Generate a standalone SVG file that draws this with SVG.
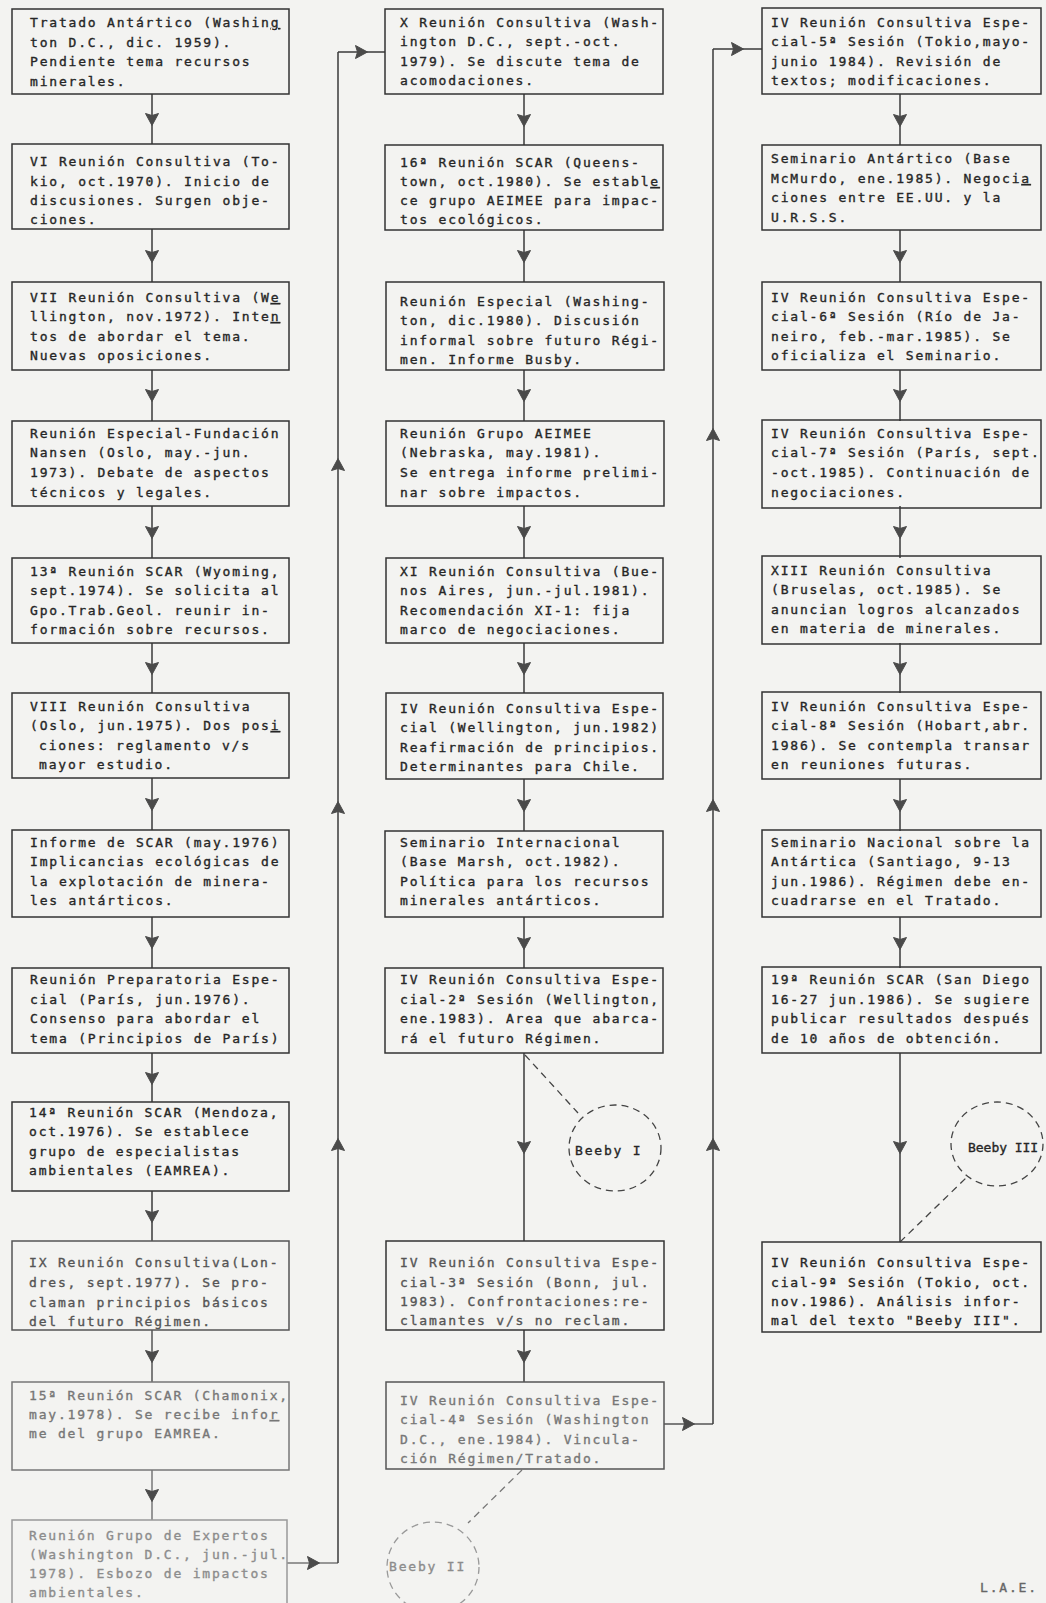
<svg xmlns="http://www.w3.org/2000/svg" width="1046" height="1603" viewBox="0 0 1046 1603">
<style>
.bx{fill:none;stroke:#333;stroke-width:1.5}
.t{font-family:"DejaVu Sans Mono","Liberation Mono",monospace;font-size:13px;letter-spacing:1.8px;fill:#262626;stroke:#262626;stroke-width:0.35}
.c{fill:none;stroke:#3a3a3a;stroke-width:1.5;marker-mid:url(#ah)}
.d{fill:none;stroke:#444;stroke-width:1.3;stroke-dasharray:7 5}
.f1{fill:#555;stroke:#555}.f2{fill:#777;stroke:#777}.f3{fill:#8c8c8c;stroke:#8c8c8c}
.s1{stroke:#555}.s2{stroke:#777}.s3{stroke:#999}
</style>
<defs>
<marker id="ah" markerUnits="userSpaceOnUse" viewBox="-8 -8 16 16" markerWidth="16" markerHeight="16" refX="0" refY="0" orient="auto">
<path d="M6.5,0 L-5.5,-6.5 L-3.5,0 L-5.5,6.5 Z" fill="#4a4a4a" stroke="#4a4a4a" stroke-width="1" stroke-linejoin="round"/>
</marker>
</defs>
<rect x="0" y="0" width="1046" height="1603" fill="#f3f3f1"/>

<g id="connectors">
<path class="c" d="M152,94 L152,119 L152,144"/>
<path class="c" d="M152,229 L152,256 L152,282"/>
<path class="c" d="M152,370 L152,395 L152,421"/>
<path class="c" d="M152,506 L152,532 L152,558"/>
<path class="c" d="M152,643 L152,668 L152,693"/>
<path class="c" d="M152,778 L152,804 L152,830"/>
<path class="c" d="M152,917 L152,942 L152,968"/>
<path class="c" d="M152,1053 L152,1078 L152,1102"/>
<path class="c" d="M152,1191 L152,1216 L152,1241"/>
<path class="c s1" d="M152,1330 L152,1356 L152,1382"/>
<path class="c s2" d="M152,1470 L152,1495 L152,1520"/>
<path class="c s2" d="M287,1563 L313,1563 L338,1563"/>
<path class="c" d="M338,1563 L338,1145 L338,808 L338,465 L338,52"/>
<path class="c" d="M338,52 L361,52 L385,52"/>

<path class="c" d="M524,94 L524,120 L524,145"/>
<path class="c" d="M524,230 L524,256 L524,282"/>
<path class="c" d="M524,370 L524,395 L524,421"/>
<path class="c" d="M524,506 L524,532 L524,558"/>
<path class="c" d="M524,643 L524,668 L524,693"/>
<path class="c" d="M524,779 L524,805 L524,831"/>
<path class="c" d="M524,917 L524,943 L524,968"/>
<path class="c" d="M524,1053 L524,1147 L524,1241"/>
<path class="c" d="M524,1330 L524,1356 L524,1382"/>
<path class="c s1" d="M664,1424 L688,1424 L713,1424"/>
<path class="c" d="M713,1424 L713,1145 L713,806 L713,435 L713,49"/>
<path class="c" d="M713,49 L737,49 L762,49"/>

<path class="c" d="M900,94 L900,120 L900,145"/>
<path class="c" d="M900,230 L900,256 L900,282"/>
<path class="c" d="M900,370 L900,395 L900,421"/>
<path class="c" d="M900,506 L900,532 L900,558"/>
<path class="c" d="M900,643 L900,668 L900,693"/>
<path class="c" d="M900,779 L900,805 L900,831"/>
<path class="c" d="M900,917 L900,943 L900,968"/>
<path class="c" d="M900,1053 L900,1147 L900,1242"/>

<path class="d" d="M525,1055 L578,1113"/>
<path class="d s2" d="M522,1470 L468,1523"/>
<path class="d" d="M900,1242 L966,1178"/>
</g>

<g id="L1"><rect class="bx" x="12" y="9" width="277" height="85"/>
<text class="t"><tspan x="30" y="27">Tratado Antártico (Washin<tspan text-decoration="underline">g</tspan></tspan><tspan x="30" y="47">ton D.C., dic. 1959).</tspan><tspan x="30" y="66">Pendiente tema recursos</tspan><tspan x="30" y="86">minerales.</tspan></text></g>
<g id="L2"><rect class="bx" x="12" y="144" width="277" height="85"/>
<text class="t"><tspan x="30" y="166">VI Reunión Consultiva (To-</tspan><tspan x="30" y="186">kio, oct.1970). Inicio de</tspan><tspan x="30" y="205">discusiones. Surgen obje-</tspan><tspan x="30" y="224">ciones.</tspan></text></g>
<g id="L3"><rect class="bx" x="12" y="282" width="277" height="88"/>
<text class="t"><tspan x="30" y="302">VII Reunión Consultiva (W<tspan text-decoration="underline">e</tspan></tspan><tspan x="30" y="321">llington, nov.1972). Inte<tspan text-decoration="underline">n</tspan></tspan><tspan x="30" y="341">tos de abordar el tema.</tspan><tspan x="30" y="360">Nuevas oposiciones.</tspan></text></g>
<g id="L4"><rect class="bx" x="12" y="421" width="277" height="85"/>
<text class="t"><tspan x="30" y="438">Reunión Especial-Fundación</tspan><tspan x="30" y="457">Nansen (Oslo, may.-jun.</tspan><tspan x="30" y="477">1973). Debate de aspectos</tspan><tspan x="30" y="497">técnicos y legales.</tspan></text></g>
<g id="L5"><rect class="bx" x="12" y="558" width="277" height="85"/>
<text class="t"><tspan x="30" y="576">13ª Reunión SCAR (Wyoming,</tspan><tspan x="30" y="595">sept.1974). Se solicita al</tspan><tspan x="30" y="615">Gpo.Trab.Geol. reunir in-</tspan><tspan x="30" y="634">formación sobre recursos.</tspan></text></g>
<g id="L6"><rect class="bx" x="12" y="693" width="277" height="85"/>
<text class="t"><tspan x="30" y="711">VIII Reunión Consultiva</tspan><tspan x="30" y="730">(Oslo, jun.1975). Dos pos<tspan text-decoration="underline">i</tspan></tspan><tspan x="39" y="750">ciones: reglamento v/s</tspan><tspan x="39" y="769">mayor estudio.</tspan></text></g>
<g id="L7"><rect class="bx" x="12" y="830" width="277" height="87"/>
<text class="t"><tspan x="30" y="847">Informe de SCAR (may.1976)</tspan><tspan x="30" y="866">Implicancias ecológicas de</tspan><tspan x="30" y="886">la explotación de minera-</tspan><tspan x="30" y="905">les antárticos.</tspan></text></g>
<g id="L8"><rect class="bx" x="12" y="968" width="277" height="85"/>
<text class="t"><tspan x="30" y="984">Reunión Preparatoria Espe-</tspan><tspan x="30" y="1004">cial (París, jun.1976).</tspan><tspan x="30" y="1023">Consenso para abordar el</tspan><tspan x="30" y="1043">tema (Principios de París)</tspan></text></g>
<g id="L9"><rect class="bx" x="12" y="1102" width="277" height="89"/>
<text class="t"><tspan x="29" y="1117">14ª Reunión SCAR (Mendoza,</tspan><tspan x="29" y="1136">oct.1976). Se establece</tspan><tspan x="29" y="1156">grupo de especialistas</tspan><tspan x="29" y="1175">ambientales (EAMREA).</tspan></text></g>
<g id="L10"><rect class="bx s1" x="12" y="1241" width="277" height="89"/>
<text class="t f1"><tspan x="29" y="1267">IX Reunión Consultiva(Lon-</tspan><tspan x="29" y="1287">dres, sept.1977). Se pro-</tspan><tspan x="29" y="1307">claman principios básicos</tspan><tspan x="29" y="1326">del futuro Régimen.</tspan></text></g>
<g id="L11"><rect class="bx s2" x="12" y="1382" width="277" height="88"/>
<text class="t f2"><tspan x="29" y="1400">15ª Reunión SCAR (Chamonix,</tspan><tspan x="29" y="1419">may.1978). Se recibe info<tspan text-decoration="underline">r</tspan></tspan><tspan x="29" y="1438">me del grupo EAMREA.</tspan></text></g>
<g id="L12"><rect class="bx s3" x="12" y="1520" width="275" height="100"/>
<text class="t f3"><tspan x="29" y="1540">Reunión Grupo de Expertos</tspan><tspan x="29" y="1559">(Washington D.C., jun.-jul.</tspan><tspan x="29" y="1578">1978). Esbozo de impactos</tspan><tspan x="29" y="1597">ambientales.</tspan></text></g>

<g id="M1"><rect class="bx" x="385" y="9" width="278" height="85"/>
<text class="t"><tspan x="400" y="27">X Reunión Consultiva (Wash-</tspan><tspan x="400" y="46">ington D.C., sept.-oct.</tspan><tspan x="400" y="66">1979). Se discute tema de</tspan><tspan x="400" y="85">acomodaciones.</tspan></text></g>
<g id="M2"><rect class="bx" x="385" y="145" width="278" height="85"/>
<text class="t"><tspan x="400" y="167">16ª Reunión SCAR (Queens-</tspan><tspan x="400" y="186">town, oct.1980). Se establ<tspan text-decoration="underline">e</tspan></tspan><tspan x="400" y="205">ce grupo AEIMEE para impac-</tspan><tspan x="400" y="224">tos ecológicos.</tspan></text></g>
<g id="M3"><rect class="bx" x="386" y="282" width="278" height="88"/>
<text class="t"><tspan x="400" y="306">Reunión Especial (Washing-</tspan><tspan x="400" y="325">ton, dic.1980). Discusión</tspan><tspan x="400" y="345">informal sobre futuro Régi-</tspan><tspan x="400" y="364">men. Informe Busby.</tspan></text></g>
<g id="M4"><rect class="bx" x="386" y="421" width="278" height="85"/>
<text class="t"><tspan x="400" y="438">Reunión Grupo AEIMEE</tspan><tspan x="400" y="457">(Nebraska, may.1981).</tspan><tspan x="400" y="477">Se entrega informe prelimi-</tspan><tspan x="400" y="497">nar sobre impactos.</tspan></text></g>
<g id="M5"><rect class="bx" x="386" y="558" width="277" height="85"/>
<text class="t"><tspan x="400" y="576">XI Reunión Consultiva (Bue-</tspan><tspan x="400" y="595">nos Aires, jun.-jul.1981).</tspan><tspan x="400" y="615">Recomendación XI-1: fija</tspan><tspan x="400" y="634">marco de negociaciones.</tspan></text></g>
<g id="M6"><rect class="bx" x="386" y="693" width="277" height="86"/>
<text class="t"><tspan x="400" y="713">IV Reunión Consultiva Espe-</tspan><tspan x="400" y="732">cial (Wellington, jun.1982)</tspan><tspan x="400" y="752">Reafirmación de principios.</tspan><tspan x="400" y="771">Determinantes para Chile.</tspan></text></g>
<g id="M7"><rect class="bx" x="385" y="831" width="278" height="86"/>
<text class="t"><tspan x="400" y="847">Seminario Internacional</tspan><tspan x="400" y="866">(Base Marsh, oct.1982).</tspan><tspan x="400" y="886">Política para los recursos</tspan><tspan x="400" y="905">minerales antárticos.</tspan></text></g>
<g id="M8"><rect class="bx" x="385" y="968" width="278" height="85"/>
<text class="t"><tspan x="400" y="984">IV Reunión Consultiva Espe-</tspan><tspan x="400" y="1004">cial-2ª Sesión (Wellington,</tspan><tspan x="400" y="1023">ene.1983). Area que abarca-</tspan><tspan x="400" y="1043">rá el futuro Régimen.</tspan></text></g>
<g id="M9"><rect class="bx" x="386" y="1241" width="278" height="89"/>
<text class="t f1"><tspan x="400" y="1267">IV Reunión Consultiva Espe-</tspan><tspan x="400" y="1287">cial-3ª Sesión (Bonn, jul.</tspan><tspan x="400" y="1306">1983). Confrontaciones:re-</tspan><tspan x="400" y="1325">clamantes v/s no reclam.</tspan></text></g>
<g id="M10"><rect class="bx s1" x="386" y="1382" width="278" height="87"/>
<text class="t f2"><tspan x="400" y="1405">IV Reunión Consultiva Espe-</tspan><tspan x="400" y="1424">cial-4ª Sesión (Washington</tspan><tspan x="400" y="1444">D.C., ene.1984). Vincula-</tspan><tspan x="400" y="1463">ción Régimen/Tratado.</tspan></text></g>

<g id="R1"><rect class="bx" x="762" y="8" width="279" height="86"/>
<text class="t"><tspan x="771" y="27">IV Reunión Consultiva Espe-</tspan><tspan x="771" y="46">cial-5ª Sesión (Tokio,mayo-</tspan><tspan x="771" y="66">junio 1984). Revisión de</tspan><tspan x="771" y="85">textos; modificaciones.</tspan></text></g>
<g id="R2"><rect class="bx" x="762" y="145" width="279" height="85"/>
<text class="t"><tspan x="771" y="163">Seminario Antártico (Base</tspan><tspan x="771" y="183">McMurdo, ene.1985). Negoci<tspan text-decoration="underline">a</tspan></tspan><tspan x="771" y="202">ciones entre EE.UU. y la</tspan><tspan x="771" y="222">U.R.S.S.</tspan></text></g>
<g id="R3"><rect class="bx" x="762" y="282" width="279" height="88"/>
<text class="t"><tspan x="771" y="302">IV Reunión Consultiva Espe-</tspan><tspan x="771" y="321">cial-6ª Sesión (Río de Ja-</tspan><tspan x="771" y="341">neiro, feb.-mar.1985). Se</tspan><tspan x="771" y="360">oficializa el Seminario.</tspan></text></g>
<g id="R4"><rect class="bx" x="762" y="420" width="279" height="88"/>
<text class="t"><tspan x="771" y="438">IV Reunión Consultiva Espe-</tspan><tspan x="771" y="457">cial-7ª Sesión (París, sept.</tspan><tspan x="771" y="477">-oct.1985). Continuación de</tspan><tspan x="771" y="497">negociaciones.</tspan></text></g>
<g id="R5"><rect class="bx" x="762" y="556" width="279" height="88"/>
<text class="t"><tspan x="771" y="575">XIII Reunión Consultiva</tspan><tspan x="771" y="594">(Bruselas, oct.1985). Se</tspan><tspan x="771" y="614">anuncian logros alcanzados</tspan><tspan x="771" y="633">en materia de minerales.</tspan></text></g>
<g id="R6"><rect class="bx" x="762" y="692" width="279" height="87"/>
<text class="t"><tspan x="771" y="711">IV Reunión Consultiva Espe-</tspan><tspan x="771" y="730">cial-8ª Sesión (Hobart,abr.</tspan><tspan x="771" y="750">1986). Se contempla transar</tspan><tspan x="771" y="769">en reuniones futuras.</tspan></text></g>
<g id="R7"><rect class="bx" x="762" y="830" width="279" height="87"/>
<text class="t"><tspan x="771" y="847">Seminario Nacional sobre la</tspan><tspan x="771" y="866">Antártica (Santiago, 9-13</tspan><tspan x="771" y="886">jun.1986). Régimen debe en-</tspan><tspan x="771" y="905">cuadrarse en el Tratado.</tspan></text></g>
<g id="R8"><rect class="bx" x="762" y="967" width="279" height="86"/>
<text class="t"><tspan x="771" y="984">19ª Reunión SCAR (San Diego</tspan><tspan x="771" y="1004">16-27 jun.1986). Se sugiere</tspan><tspan x="771" y="1023">publicar resultados después</tspan><tspan x="771" y="1043">de 10 años de obtención.</tspan></text></g>
<g id="R9"><rect class="bx" x="762" y="1242" width="279" height="90"/>
<text class="t"><tspan x="771" y="1267">IV Reunión Consultiva Espe-</tspan><tspan x="771" y="1287">cial-9ª Sesión (Tokio, oct.</tspan><tspan x="771" y="1306">nov.1986). Análisis infor-</tspan><tspan x="771" y="1325">mal del texto "Beeby III".</tspan></text></g>

<g id="BeebyI"><ellipse class="d" cx="615" cy="1148" rx="46" ry="43"/>
<text class="t" x="575" y="1155">Beeby I</text></g>
<g id="BeebyII"><ellipse class="d s3" cx="433" cy="1567" rx="46" ry="45"/>
<text class="t f3" x="389" y="1571">Beeby II</text></g>
<g id="BeebyIII"><ellipse class="d" cx="997" cy="1144" rx="46" ry="42"/>
<text class="t" x="968" y="1152" textLength="72" lengthAdjust="spacing">Beeby III</text></g>
<text class="t" x="980" y="1592" style="fill:#666;stroke:#666">L.A.E.</text>
</svg>
